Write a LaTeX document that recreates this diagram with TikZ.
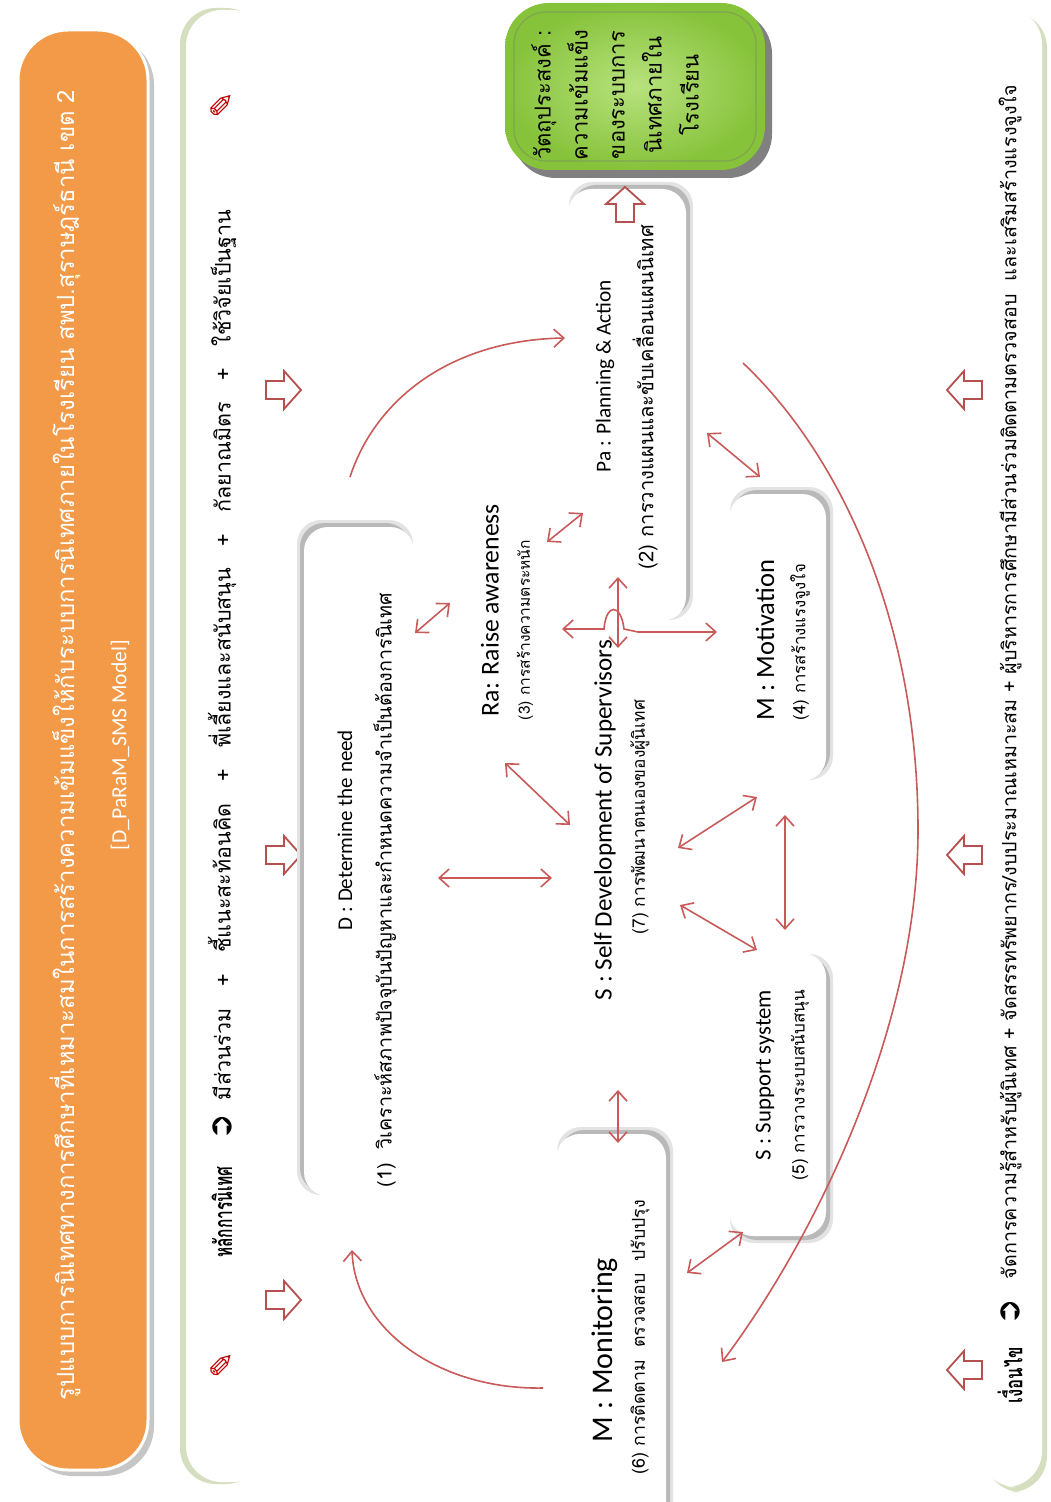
\documentclass[tikz,border=0pt]{standalone}
\usepackage{fontspec}
\usepackage{graphicx}
\setmainfont{Carlito}
\newfontfamily\thai[Script=Thai]{Loma}
\newfontfamily\dejavu{DejaVu Sans}
\usetikzlibrary{arrows.meta}
\definecolor{arr}{HTML}{C85A5A}
\definecolor{barr}{HTML}{B5504F}
\definecolor{orangebox}{HTML}{F39A48}
\definecolor{grn}{HTML}{86C23A}
\definecolor{grnlight}{HTML}{B8E27E}
\definecolor{grndark}{HTML}{5E8F25}
\definecolor{bandgrn}{HTML}{D5DFC0}
\newcommand\fitw[2]{\resizebox{#1}{!}{#2}}
\newcommand\mybox[6]{%
  \fill[gray!22, rounded corners=12] ({#1-3},{#2-3}) rectangle ({#3+3},{#4+3});
  \fill[gray!55, rounded corners=12] (#1,#2) rectangle (#3,#4);
  \fill[white, rounded corners=12] ({#1+(#5)},{#2+(#6)}) rectangle ({#3+(#5)},{#4+(#6)});}
\begin{document}
\begin{tikzpicture}[x={(0.5pt,0)}, y={(0,-0.5pt)},
  lbl/.style={rotate=90, inner sep=0pt, anchor=center},
  conn/.style={draw=arr, line width=0.8pt, {Straight Barb[length=5pt,width=9pt]}-{Straight Barb[length=5pt,width=9pt]}},
  oneway/.style={draw=arr, line width=0.8pt, -{Straight Barb[length=5pt,width=9pt]}},
  barrow/.pic={\draw[barr, line width=0.9pt, fill=white, line join=miter] (-17,-9) -- (1,-9) -- (1,-19) -- (18,0) -- (1,19) -- (1,9) -- (-17,9) -- cycle;},
  pen/.style={rotate=90, inner sep=0pt, text=red!75!black, font=\dejavu\fontsize{16}{16}\selectfont},
  icon/.style={rotate=90, inner sep=0pt, font=\dejavu\fontsize{16}{16}\selectfont}
]
\useasboundingbox (0,0) rectangle (1050,1502);
\fill[white] (0,0) rectangle (1050,1502);

% title box
\fill[gray!45, rounded corners=25] (23,35) rectangle (154,1476);
\fill[orangebox, draw=white, line width=1.5pt, rounded corners=25] (18,30) rectangle (148,1470);
\node[lbl, text=white] (title) at (65,745) {\fitw{655pt}{\thai รูปแบบการนิเทศทางการศึกษาที่เหมาะสมในการสร้างความเข้มแข็งให้กับระบบการนิเทศภายในโรงเรียน สพป.สุราษฎร์ธานี เขต 2}};
\node[lbl, text=white] (model) at (120,745) {\fitw{105pt}{[D\_PaRaM\_SMS Model]}};

% top band
\fill[bandgrn, rounded corners=18] (180,8) rectangle (262,1484);
\fill[white, rounded corners=18] (186,10) rectangle (268,1482);
\node[pen] (pen1) at (222,1365) {✎};
\node[lbl] (principle) at (222,1212) {\scalebox{0.62}[1]{\thai\bfseries\fontsize{12.5}{13}\selectfont หลักการนิเทศ}};
\node[icon] (ic1) at (222,1127) {➲};
\node[lbl] (plist) at (222,655) {\fitw{445pt}{\thai มีส่วนร่วม\quad+\quad ชี้แนะสะท้อนคิด\quad+\quad พี่เลี้ยงและสนับสนุน\quad+\quad กัลยาณมิตร\quad+\quad ใช้วิจัยเป็นฐาน}};
\node[pen] (pen2) at (222,105) {✎};

% bottom band
\fill[bandgrn, rounded corners=18] (985,12) rectangle (1047,1492);
\fill[white, rounded corners=18] (980,8) rectangle (1042,1487);
\node[lbl] (cond) at (1010,1375) {\scalebox{0.7}[1]{\thai\bfseries\fontsize{12}{13}\selectfont เงื่อนไข}};
\node[icon] (ic2) at (1010,1312) {➲};
\node[lbl] (clist) at (1010,682) {\fitw{597pt}{\thai จัดการความรู้สำหรับผู้นิเทศ + จัดสรรทรัพยากร/งบประมาณเหมาะสม + ผู้บริหารการศึกษามีส่วนร่วมติดตามตรวจสอบ\ \ และเสริมสร้างแรงจูงใจ}};

% block arrows
\pic at (283,1300) {barrow};
\pic at (283,855) {barrow};
\pic at (283,390) {barrow};
\pic[rotate=180] at (965,1370) {barrow};
\pic[rotate=180] at (965,855) {barrow};
\pic[rotate=180] at (965,390) {barrow};

% green goal box
\fill[black!50, rounded corners=22] (512,10) rectangle (772,178);
\shade[rounded corners=22, inner color=grnlight, outer color=grn] (505,3) rectangle (765,170);
\draw[grndark!80, rounded corners=16, line width=0.6pt] (514,12) rectangle (756,161);
\node[lbl, align=center, font={\thai\fontsize{11}{18.5}\selectfont}] (goal) at (615,95) {วัตถุประสงค์ :\\ความเข้มแข็ง\\ของระบบการ\\นิเทศภายใน\\โรงเรียน};

% boxes
\mybox{300}{523}{410}{1192}{4}{4}
\mybox{572}{185}{690}{617}{-4}{4}
\mybox{733}{490}{830}{777}{-4}{4}
\mybox{733}{957}{830}{1240}{-4}{-4}
\mybox{560}{1130}{670}{1560}{-4}{4}

\pic[rotate=90] at (625,205) {barrow};

% labels
\node[lbl] (dt) at (345,830) {\fitw{100pt}{D : Determine the need}};
\node[lbl] (ds) at (385,890) {\fitw{297pt}{\thai (1)\ \ วิเคราะห์สภาพปัจจุบันปัญหาและกำหนดความจำเป็นต้องการนิเทศ}};
\node[lbl] (rt) at (490,610) {\fitw{106pt}{Ra: Raise awareness}};
\node[lbl] (rs) at (525,630) {\fitw{90pt}{\thai (3) การสร้างความตระหนัก}};
\node[lbl] (pt) at (605,376) {\fitw{96pt}{Pa : Planning \& Action}};
\node[lbl] (ps) at (645,397) {\fitw{172pt}{\thai (2) การวางแผนและขับเคลื่อนแผนนิเทศ}};
\node[lbl] (st) at (605,820) {\fitw{180pt}{S : Self Development of Supervisors}};
\node[lbl] (ss) at (640,817) {\fitw{117pt}{\thai (7) การพัฒนาตนเองของผู้นิเทศ}};
\node[lbl] (mt) at (765,640) {\fitw{80pt}{M : Motivation}};
\node[lbl] (ms) at (800,642) {\fitw{78pt}{\thai (4) การสร้างแรงจูงใจ}};
\node[lbl] (sut) at (765,1075) {\fitw{85pt}{S : Support system}};
\node[lbl] (sus) at (800,1085) {\fitw{95pt}{\thai (5) การวางระบบสนับสนุน}};
\node[lbl] (mot) at (605,1350) {\fitw{92pt}{M : Monitoring}};
\node[lbl] (mos) at (640,1337) {\fitw{137pt}{\thai (6) การติดตาม\ \ ตรวจสอบ\ \ ปรับปรุง}};

% connector end points
\coordinate (a1) at (415,633); \coordinate (a2) at (450,603);
\coordinate (b1) at (547,542); \coordinate (b2) at (583,513);
\coordinate (c1) at (505,763); \coordinate (c2) at (570,825);
\coordinate (d1) at (438,878); \coordinate (d2) at (552,878);
\coordinate (e1) at (618,648); \coordinate (e2) at (618,577);
\coordinate (f1) at (562,629); \coordinate (f2) at (717,632);
\coordinate (g1) at (707,433); \coordinate (g2) at (760,477);
\coordinate (h1) at (678,848); \coordinate (h2) at (757,797);
\coordinate (i1) at (785,815); \coordinate (i2) at (785,930);
\coordinate (j1) at (680,905); \coordinate (j2) at (757,950);
\coordinate (k1) at (618,1090); \coordinate (k2) at (618,1143);
\coordinate (l1) at (687,1273); \coordinate (l2) at (743,1232);
\coordinate (m1) at (350,477); \coordinate (m2) at (565,338);
\coordinate (n1) at (743,363); \coordinate (n0) at (918,830); \coordinate (n2) at (722,1362);
\coordinate (o1) at (543,1388); \coordinate (o2) at (352,1250);

\draw[conn] (a1) -- (a2);
\draw[conn] (b1) -- (b2);
\draw[conn] (c1) -- (c2);
\draw[conn] (d1) -- (d2);
\draw[conn] (e1) -- (e2);
\draw[conn] (f1) -- (604,629) .. controls (606,603) and (621,603) .. (624,629) -- (638,632) -- (f2);
\draw[conn] (g1) -- (g2);
\draw[conn] (h1) -- (h2);
\draw[conn] (i1) -- (i2);
\draw[conn] (j1) -- (j2);
\draw[conn] (k1) -- (k2);
\draw[conn] (l1) -- (l2);
\draw[oneway] (m1) .. controls (375,400) and (450,340) .. (m2);
\draw[oneway] (n1) .. controls (840,455) and (918,620) .. (n0) .. controls (918,1030) and (813,1241) .. (n2);
\draw[oneway] (o1) .. controls (440,1390) and (355,1330) .. (o2);
\end{tikzpicture}
\end{document}
